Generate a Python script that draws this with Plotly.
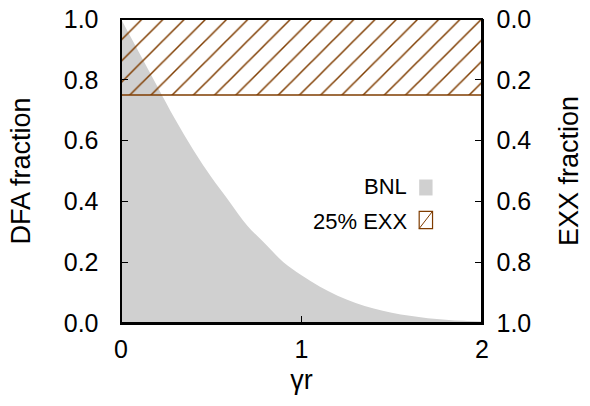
import plotly.graph_objects as go

# ---- data ----
gamma_r = [0.0, 0.1, 0.2, 0.3, 0.4, 0.5, 0.6, 0.7, 0.8, 0.9, 1.0,
           1.1, 1.2, 1.3, 1.4, 1.5, 1.6, 1.7, 1.8, 1.9, 2.0]
bnl_dfa = [1.00, 0.89, 0.78, 0.67, 0.57, 0.48, 0.40, 0.32, 0.26, 0.20, 0.157,
           0.12, 0.09, 0.066, 0.048, 0.034, 0.024, 0.016, 0.011, 0.007, 0.005]
exx_x = [0.0, 2.0]
exx_zero = [0.0, 0.0]        # EXX fraction (right axis)
exx_level = [0.25, 0.25]     # 25% EXX
x_ticks = [0, 1, 2]
x_minor = [0.2, 0.4, 0.6, 0.8, 1.2, 1.4, 1.6, 1.8]
y_ticks = [0.0, 0.2, 0.4, 0.6, 0.8, 1.0]
y_labels = ["0.0", "0.2", "0.4", "0.6", "0.8", "1.0"]
y_minor = [0.04, 0.08, 0.12, 0.16, 0.24, 0.28, 0.32, 0.36, 0.44, 0.48,
           0.52, 0.56, 0.64, 0.68, 0.72, 0.76, 0.84, 0.88, 0.92, 0.96]
legend_labels = ["BNL", "25% EXX"]

FONT = "Liberation Sans, Arial, Helvetica, sans-serif"
GRAY = "#d0d0d0"
BROWN = "#7f3c00"

fig = go.Figure()
fig.add_trace(go.Scatter(
    x=gamma_r, y=bnl_dfa, mode="lines", fill="tozeroy", fillcolor=GRAY,
    line=dict(width=0, shape="spline", color=GRAY), showlegend=False,
    hoverinfo="skip"))
fig.add_trace(go.Scatter(
    x=exx_x, y=exx_zero, yaxis="y2", mode="lines",
    line=dict(width=0, color="rgba(0,0,0,0)"), showlegend=False,
    hoverinfo="skip"))
fig.add_trace(go.Scatter(
    x=exx_x, y=exx_level, yaxis="y2", mode="lines", fill="tonexty",
    fillcolor="rgba(0,0,0,0)",
    fillpattern=dict(shape="/", fgcolor=BROWN, bgcolor="rgba(0,0,0,0)",
                     fgopacity=1, size=15, solidity=0.1),
    line=dict(width=1.5, color=BROWN), showlegend=False, hoverinfo="skip"))

base = dict(
    showline=True, linecolor="black", linewidth=1.5, showgrid=False,
    zeroline=False, ticks="inside", tickwidth=1.2, tickcolor="black",
    ticklabeloverflow="allow", automargin=False,
    tickfont=dict(family=FONT, size=25, color="black"),
)
tfont = dict(family=FONT, size=27, color="black")

fig.update_layout(
    template="none",
    width=590, height=406,
    margin=dict(l=121, r=108, t=19, b=83),
    paper_bgcolor="white", plot_bgcolor="white",
    font=dict(family=FONT, size=25, color="black"),
    xaxis=dict(**base, range=[0, 2], tickvals=x_ticks, ticklen=7,
               ticklabelstandoff=3,
               title=dict(text="γr", standoff=8, font=tfont)),
    yaxis=dict(**base, range=[0, 1], tickvals=y_ticks, ticktext=y_labels,
               ticklen=7, ticklabelstandoff=16,
               title=dict(text="DFA fraction", standoff=25, font=tfont)),
    yaxis2=dict(**base, range=[1, 0], tickvals=y_ticks, ticktext=y_labels,
                ticklen=7, overlaying="y", side="right", anchor="x",
                ticklabelstandoff=8,
                title=dict(text="EXX fraction", standoff=29, font=tfont)),
    # top axis (major ticks, no labels)
    xaxis2=dict(**base, range=[0, 2], tickvals=x_ticks, ticklen=7,
                overlaying="x", side="top", anchor="y",
                showticklabels=False),
    # minor ticks
    xaxis3=dict(**base, range=[0, 2], tickvals=x_minor, ticklen=4,
                overlaying="x", side="bottom", anchor="y",
                showticklabels=False),
    xaxis4=dict(**base, range=[0, 2], tickvals=x_minor, ticklen=4,
                overlaying="x", side="top", anchor="y",
                showticklabels=False),
    yaxis3=dict(**base, range=[0, 1], tickvals=y_minor, ticklen=4,
                overlaying="y", side="left", anchor="x",
                showticklabels=False),
    yaxis4=dict(**base, range=[0, 1], tickvals=y_minor, ticklen=4,
                overlaying="y", side="right", anchor="x",
                showticklabels=False),
)

# plot frame
fig.add_shape(type="rect", xref="paper", yref="paper", x0=0, x1=1, y0=0,
              y1=1, line=dict(color="black", width=2), layer="above")

# custom legend (text left, swatch right)
fig.add_annotation(x=0.797, y=0.450, xref="paper", yref="paper",
                   text=legend_labels[0], showarrow=False, xanchor="right",
                   yanchor="middle", font=dict(family=FONT, size=22))
fig.add_annotation(x=0.797, y=0.335, xref="paper", yref="paper",
                   text=legend_labels[1], showarrow=False, xanchor="right",
                   yanchor="middle", font=dict(family=FONT, size=22))
fig.add_shape(type="rect", xref="paper", yref="paper",
              x0=0.826, x1=0.863, y0=0.4195, y1=0.472,
              fillcolor=GRAY, line=dict(width=0))
fig.add_shape(type="rect", xref="paper", yref="paper",
              x0=0.826, x1=0.863, y0=0.3105, y1=0.3675,
              fillcolor="white", line=dict(width=1.2, color=BROWN))
fig.add_shape(type="line", xref="paper", yref="paper",
              x0=0.826, x1=0.863, y0=0.3105, y1=0.3675,
              line=dict(width=1, color=BROWN))

# the page's default 8px body margin would shift the figure
fig.write_html("out.html",
               config={"displayModeBar": False, "staticPlot": True},
               post_script="document.body.style.margin='0';"
                           "document.body.style.overflow='hidden';")
